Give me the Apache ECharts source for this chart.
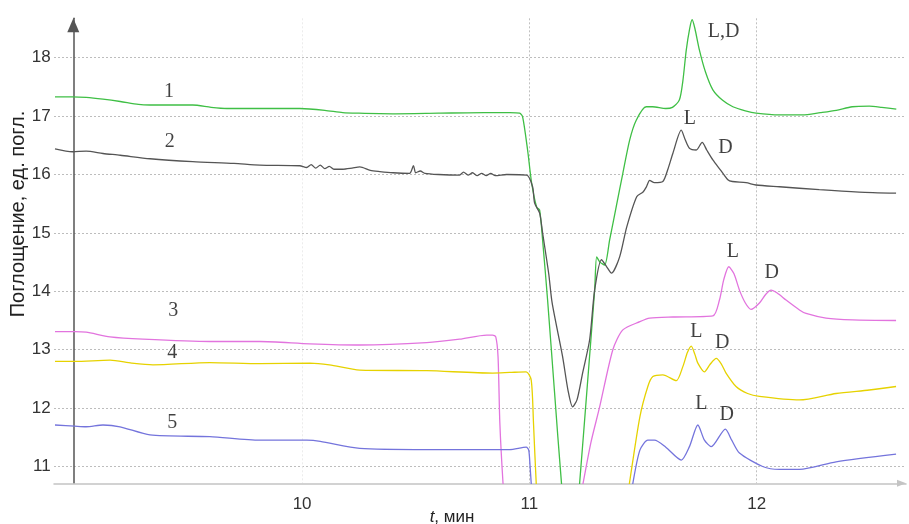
<!DOCTYPE html>
<html>
<head>
<meta charset="utf-8">
<script src="https://cdn.jsdelivr.net/npm/echarts@6/dist/echarts.min.js"></script>
<style>
html, body { margin: 0; padding: 0; background: #fff; }
#main { width: 909px; height: 524px; }
</style>
</head>
<body>
<div id="main"></div>
<script>
// tick labels shown on the axes
var xTicks = [10, 11, 12];
var yTicks = [11, 12, 13, 14, 15, 16, 17, 18];

// curve 1 (green)
var curve1 = [
  [8.913,17.33],[8.99,17.33],[9.05,17.32],[9.124,17.29],[9.2,17.25],[9.28,17.2],[9.331,17.19],[9.519,17.19],
  [9.6,17.15],[9.669,17.13],[9.99,17.13],[10.1,17.1],[10.179,17.06],[10.25,17.05],[10.399,17.04],[10.6,17.05],
  [10.8,17.06],[10.913,17.06],[10.957,17.05],[10.97,16.99],[10.992,16.42],[11.01,15.85],[11.032,15.44],
  [11.045,15.39],[11.058,14.88],[11.08,13.85],[11.11,12.3],[11.141,10.72],[11.15,10.5],[11.215,10.5],
  [11.221,10.72],[11.255,12.4],[11.287,14.02],[11.296,14.59],[11.31,14.5],[11.331,14.45],[11.353,14.88],
  [11.382,15.45],[11.411,16.02],[11.441,16.59],[11.47,16.93],[11.514,17.16],[11.542,17.16],[11.6,17.13],
  [11.629,17.15],[11.66,17.28],[11.675,17.6],[11.69,18.13],[11.705,18.5],[11.716,18.65],[11.728,18.5],
  [11.748,18.13],[11.775,17.75],[11.807,17.45],[11.85,17.27],[11.895,17.16],[11.95,17.09],[11.997,17.05],
  [12.1,17.02],[12.201,17.02],[12.28,17.06],[12.35,17.1],[12.42,17.16],[12.495,17.17],[12.55,17.15],[12.614,17.12]
];

// curve 2 (grey)
var curve2 = [
  [8.913,16.44],[8.99,16.39],[9.05,16.4],[9.124,16.36],[9.2,16.33],[9.331,16.27],[9.519,16.22],[9.7,16.19],
  [9.814,16.16],[9.99,16.15],[10.02,16.12],[10.04,16.17],[10.06,16.11],[10.08,16.16],[10.1,16.1],[10.12,16.14],
  [10.14,16.09],[10.179,16.09],[10.22,16.11],[10.254,16.13],[10.3,16.07],[10.342,16.05],[10.4,16.03],
  [10.473,16.02],[10.49,16.15],[10.5,16.03],[10.52,16.06],[10.54,16.02],[10.6,16.0],[10.693,15.99],
  [10.71,16.04],[10.73,15.99],[10.75,16.03],[10.77,15.98],[10.79,16.02],[10.81,15.98],[10.83,16.02],
  [10.85,15.98],[10.9,16.0],[10.988,15.99],[11.014,15.79],[11.023,15.51],[11.045,15.34],[11.058,15.0],
  [11.085,14.3],[11.1,13.8],[11.146,12.88],[11.17,12.3],[11.19,12.02],[11.21,12.15],[11.234,12.6],
  [11.265,13.17],[11.287,14.02],[11.317,14.54],[11.34,14.42],[11.361,14.31],[11.397,14.59],[11.428,15.1],
  [11.472,15.62],[11.5,15.7],[11.515,15.79],[11.529,15.9],[11.55,15.86],[11.587,15.88],[11.61,16.1],
  [11.631,16.36],[11.668,16.76],[11.685,16.6],[11.704,16.45],[11.734,16.42],[11.76,16.55],[11.78,16.42],
  [11.807,16.25],[11.84,16.08],[11.873,15.91],[11.893,15.88],[11.953,15.86],[11.997,15.82],[12.1,15.79],
  [12.275,15.74],[12.45,15.7],[12.613,15.68]
];

// curve 3 (pink)
var curve3 = [
  [8.913,13.31],[9.0,13.31],[9.05,13.3],[9.155,13.22],[9.3,13.18],[9.594,13.14],[9.814,13.14],[10.034,13.1],
  [10.254,13.08],[10.548,13.12],[10.693,13.18],[10.812,13.25],[10.838,13.25],[10.852,13.22],[10.862,12.88],
  [10.87,11.74],[10.884,10.71],[10.89,10.5],[11.225,10.5],[11.236,10.71],[11.27,11.4],[11.309,12.02],
  [11.367,13.0],[11.411,13.34],[11.486,13.48],[11.529,13.54],[11.631,13.56],[11.807,13.58],[11.836,13.85],
  [11.855,14.2],[11.877,14.42],[11.9,14.3],[11.924,14.02],[11.95,13.8],[11.975,13.69],[12.012,13.8],
  [12.04,13.95],[12.063,14.02],[12.09,13.97],[12.129,13.85],[12.188,13.68],[12.217,13.62],[12.305,13.54],
  [12.422,13.51],[12.613,13.5]
];

// curve 4 (yellow)
var curve4 = [
  [8.913,12.8],[9.0,12.8],[9.155,12.82],[9.25,12.77],[9.344,12.74],[9.594,12.78],[9.814,12.76],[10.034,12.77],
  [10.12,12.74],[10.254,12.65],[10.548,12.64],[10.838,12.6],[10.913,12.61],[10.986,12.62],[11.008,12.48],
  [11.018,11.74],[11.03,10.71],[11.036,10.5],[11.433,10.5],[11.44,10.71],[11.486,11.85],[11.521,12.37],
  [11.543,12.54],[11.587,12.57],[11.646,12.47],[11.675,12.71],[11.695,12.95],[11.712,13.06],[11.728,12.92],
  [11.741,12.77],[11.77,12.62],[11.795,12.75],[11.822,12.85],[11.845,12.75],[11.865,12.6],[11.909,12.37],
  [11.96,12.25],[12.012,12.2],[12.188,12.14],[12.349,12.25],[12.495,12.31],[12.613,12.37]
];

// curve 5 (blue)
var curve5 = [
  [8.913,11.71],[9.0,11.69],[9.05,11.68],[9.124,11.71],[9.199,11.68],[9.331,11.54],[9.594,11.51],[9.814,11.45],
  [10.021,11.45],[10.08,11.43],[10.254,11.31],[10.548,11.29],[10.913,11.29],[10.986,11.33],[10.997,11.28],
  [11.003,11.0],[11.008,10.71],[11.012,10.5],[11.45,10.5],[11.455,10.71],[11.486,11.28],[11.521,11.45],
  [11.55,11.45],[11.6,11.33],[11.668,11.11],[11.704,11.34],[11.741,11.71],[11.77,11.45],[11.8,11.34],
  [11.862,11.64],[11.89,11.45],[11.924,11.23],[12.026,11.0],[12.1,10.95],[12.188,10.95],[12.349,11.08],
  [12.613,11.21]
];

// text marks on the plot: [x, y, text]
var notes = [
  [9.415,17.42,'1'],[9.418,16.56,'2'],[9.433,13.67,'3'],[9.429,12.955,'4'],[9.429,11.757,'5'],
  [11.854,18.445,'L,D'],
  [11.706,16.96,'L'],[11.862,16.45,'D'],
  [11.895,14.68,'L'],[12.066,14.31,'D'],
  [11.734,13.31,'L'],[11.848,13.12,'D'],
  [11.756,12.08,'L'],[11.868,11.88,'D']
];

var colors = ['#3fbf45', '#555555', '#e274de', '#e6d200', '#7474dc'];
var curves = [curve1, curve2, curve3, curve4, curve5];

function hasTick(list, v) {
  for (var i = 0; i < list.length; i++) {
    if (Math.abs(list[i] - v) < 1e-6) return true;
  }
  return false;
}

var series = curves.map(function (c, i) {
  return {
    name: String(i + 1),
    type: 'line',
    data: c,
    showSymbol: false,
    smooth: 0.25,
    clip: true,
    lineStyle: { color: colors[i], width: 1.3 },
    silent: true
  };
});

series.push({
  name: 'notes',
  type: 'scatter',
  symbolSize: 1,
  itemStyle: { color: 'rgba(0,0,0,0)' },
  silent: true,
  data: notes.map(function (n) { return { value: [n[0], n[1]], name: n[2] }; }),
  label: {
    show: true,
    position: 'inside',
    formatter: function (p) { return p.name; },
    fontFamily: 'Liberation Serif, Times New Roman, serif',
    fontSize: 20,
    color: '#111'
  }
});

var chart = echarts.init(document.getElementById('main'));
chart.setOption({
  animation: false,
  backgroundColor: '#fff',
  grid: { left: 54, right: 2.3, top: 18.3, bottom: 40.7 },
  xAxis: {
    type: 'value',
    min: 8.9086,
    max: 12.6567,
    minInterval: 1,
    maxInterval: 1,
    axisLine: {
      show: true,
      symbol: ['none', 'triangle'],
      symbolSize: [7, 9],
      symbolOffset: [0, -4.5],
      lineStyle: { color: '#c4c4c4', width: 1.5 }
    },
    axisTick: { show: false },
    axisLabel: {
      margin: 13,
      fontSize: 17,
      color: '#333',
      fontFamily: 'Liberation Sans, Arial, sans-serif',
      formatter: function (v) { return hasTick(xTicks, v) ? String(Math.round(v)) : ''; }
    },
    splitLine: {
      show: true,
      showMinLine: false,
      showMaxLine: false,
      lineStyle: { color: ['rgba(0,0,0,0)', '#ececec', '#c0c0c0', '#c0c0c0'], type: [2, 2], width: 1 }
    }
  },
  yAxis: {
    type: 'value',
    min: 10.712,
    max: 18.675,
    minInterval: 1,
    maxInterval: 1,
    offset: -19.3,
    axisLine: {
      show: true,
      symbol: ['none', 'triangle'],
      symbolSize: [12, 14],
      symbolOffset: [0, -7],
      lineStyle: { color: '#555', width: 1.5 }
    },
    axisTick: { show: false },
    axisLabel: {
      margin: 22.6,
      fontSize: 17,
      color: '#333',
      fontFamily: 'Liberation Sans, Arial, sans-serif',
      formatter: function (v) { return hasTick(yTicks, v) ? String(Math.round(v)) : ''; }
    },
    splitLine: {
      show: true,
      showMinLine: false,
      showMaxLine: false,
      lineStyle: { color: '#bdbdbd', type: [2, 2], width: 1 }
    }
  },
  graphic: [
    {
      type: 'text',
      x: 18,
      y: 214,
      rotation: Math.PI / 2,
      style: {
        text: 'Поглощение, ед. погл.',
        fontFamily: 'Liberation Sans, Arial, sans-serif',
        fontSize: 20,
        fill: '#222',
        align: 'center',
        verticalAlign: 'middle'
      }
    },
    {
      type: 'text',
      x: 452,
      y: 517,
      style: {
        text: '{i|t}, мин',
        fontFamily: 'Liberation Sans, Arial, sans-serif',
        fontSize: 17,
        fill: '#222',
        align: 'center',
        verticalAlign: 'middle',
        rich: {
          i: { fontStyle: 'italic', fontSize: 17, fontFamily: 'Liberation Sans, Arial, sans-serif', fill: '#222' }
        }
      }
    }
  ],
  series: series
});
</script>
</body>
</html>
